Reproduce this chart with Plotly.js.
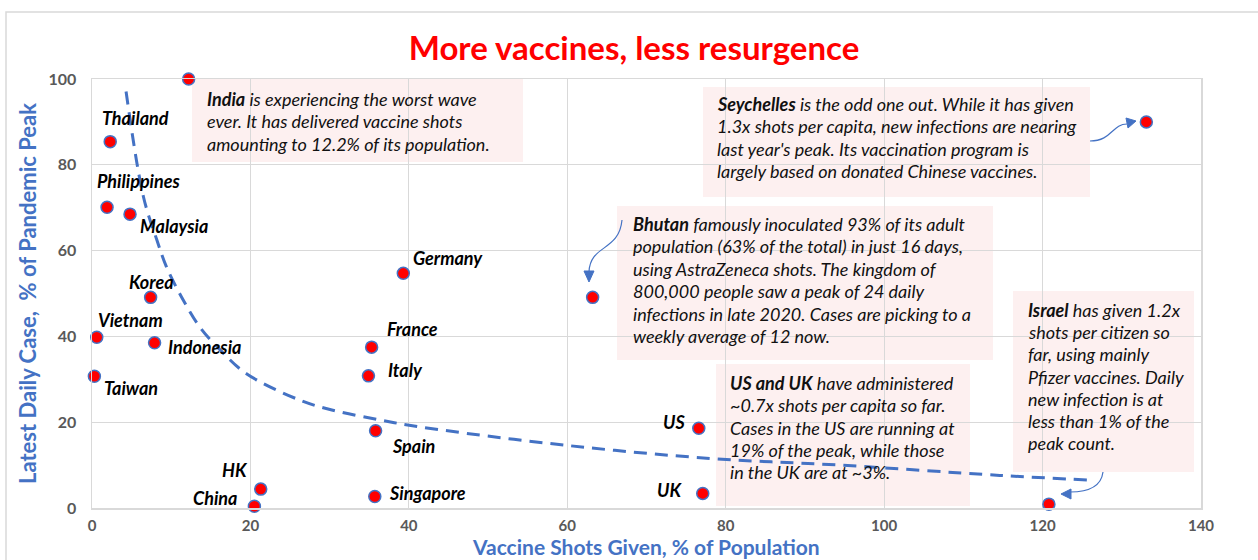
<!DOCTYPE html>
<html><head><meta charset="utf-8">
<script src="https://cdn.plot.ly/plotly-3.0.1.min.js"></script>
<style>html,body{margin:0;padding:0;background:#fff;}#chart{width:1258px;height:560px;}</style>
</head><body><div id="chart"></div>
<script>
// ---- data ----
const countries = ['India','Thailand','Philippines','Malaysia','Korea','Vietnam','Indonesia','Taiwan','Germany','France','Italy','Spain','Singapore','HK','China','US','UK','Bhutan','Israel','Seychelles'];
const shots = [12.2, 2.3, 1.9, 4.8, 7.4, 0.6, 7.9, 0.3, 39.3, 35.3, 34.9, 35.8, 35.7, 21.3, 20.5, 76.6, 77.1, 63.2, 120.8, 133.1];
const cases = [100, 85.4, 70.1, 68.5, 49.1, 39.8, 38.5, 30.7, 54.7, 37.5, 30.8, 18.0, 2.7, 4.4, 0.4, 18.6, 3.4, 49.1, 0.9, 90.0];
// trend line
const trendX = [4.3, 6.5, 8.2, 9.4, 11.3, 13.6, 16.2, 19.5, 26.3, 30.4, 36.4, 41.4, 59.9, 78.4, 94.4, 114.6, 126];
const trendY = [97.1, 72.5, 62.4, 56.2, 49.2, 42.2, 36.8, 31.3, 25.1, 22.8, 20.5, 18.9, 14.6, 11.5, 10.0, 7.6, 6.5];
const xTicks = [0, 20, 40, 60, 80, 100, 120, 140];
const yTicks = [0, 20, 40, 60, 80, 100];
const xTitle = 'Vaccine Shots Given, % of Population';
const yTitle = 'Latest Daily Case,  % of Pandemic Peak';
// annotation texts
const indiaLines = ['<b>India</b> is experiencing the worst wave', 'ever. It has delivered vaccine shots', 'amounting to 12.2% of its population.'];
const seyLines = ['<b>Seychelles</b> is the odd one out. While it has given', '1.3x shots per capita, new infections are nearing', "last year's peak. Its vaccination program is", 'largely based on donated Chinese vaccines.'];
const bhutanLines = ['<b>Bhutan</b> famously inoculated 93% of its adult', 'population (63% of the total) in just 16 days,', 'using AstraZeneca shots. The kingdom of', '800,000 people saw a peak of 24 daily', 'infections in late 2020. Cases are picking to a', 'weekly average of 12 now.'];
const usLines = ['<b>US and UK</b> have administered', '~0.7x shots per capita so far.', 'Cases in the US are running at', '19% of the peak, while those', 'in the UK are at ~3%.'];
const israelLines = ['<b>Israel</b> has given 1.2x', 'shots per citizen so', 'far, using mainly', 'Pfizer vaccines. Daily', 'new infection is at', 'less than 1% of the', 'peak count.'];

// ---- styling / layout helpers ----
const L = 92, T = 79, W = 1109, H = 429;
const px = x => (x - L) / W;
const py = y => (T + H - y) / H;
const FONT = 'Lato, "Open Sans", sans-serif';
const BLUE = '#4472C4';

// label placements (pixel offsets from the point)
const labelPos = {
  Thailand:[-10,24,'left'], Philippines:[-12,26,'left'], Malaysia:[8,-12,'left'], Korea:[-24,15,'left'],
  Vietnam:[-1,17,'left'], Indonesia:[11,-4,'left'], Taiwan:[8,-12,'left'], Germany:[8,15,'left'],
  France:[13,18,'left'], Italy:[18,6,'left'], Spain:[14,-15,'left'], Singapore:[12,3,'left'],
  HK:[-11,19,'right'], China:[-15,8,'right'], US:[-12,6,'right'], UK:[-19,3,'right']
};

const annotations = [];
countries.forEach((c, i) => {
  const p = labelPos[c];
  if (!p) return;
  annotations.push({x: shots[i], y: cases[i], xref:'x', yref:'y', showarrow:false,
    text:'<b><i>'+c+'</i></b>', xanchor:p[2], yanchor:'middle', xshift:p[0], yshift:p[1],
    font:{family:FONT, size:18, color:'#000'}});
});

// x-axis title, placed just under the tick labels
annotations.push({xref:'paper', yref:'paper', x:px(646), y:py(546), xanchor:'center', yanchor:'middle',
  showarrow:false, borderpad:0, text:'<b>'+xTitle+'</b>', font:{family:FONT, size:21, color:BLUE}});

const shapes = [];
function textBox(lines, left, top, right, bottom, textLeft, firstY, step) {
  shapes.push({type:'rect', xref:'paper', yref:'paper', layer:'between',
    x0:px(left), x1:px(right), y0:py(bottom), y1:py(top),
    fillcolor:'rgba(250,215,215,0.38)', line:{width:0}});
  lines.forEach((t, k) => {
    annotations.push({xref:'paper', yref:'paper', x:px(textLeft), y:py(firstY + k*step),
      xanchor:'left', yanchor:'middle', showarrow:false, text:'<i>'+t+'</i>',
      font:{family:FONT, size:18, color:'#111'}});
  });
}
textBox(indiaLines, 192, 79, 523, 162, 205, 99, 22.4);
textBox(seyLines, 703, 87, 1090, 197, 715, 104, 22.4);
textBox(bhutanLines, 617, 206, 993, 360, 631, 224, 22.4);
textBox(usLines, 716, 364, 970, 506, 728, 383, 22.3);
textBox(israelLines, 1013, 291, 1194, 472, 1026, 310, 22.2);

function pathStr(cmds) {
  return cmds.map(c => c[0] + ' ' + c.slice(1).reduce((a, v, j) => {
    a.push(j % 2 === 0 ? px(v).toFixed(5) : py(v).toFixed(5)); return a;
  }, []).join(',')).join(' ');
}
function curve(cmds, head) {
  shapes.push({type:'path', xref:'paper', yref:'paper', layer:'above',
    path:pathStr(cmds), line:{color:BLUE, width:1.2}});
  shapes.push({type:'path', xref:'paper', yref:'paper', layer:'above',
    path:pathStr([['M',head[0],head[1]],['L',head[2],head[3]],['L',head[4],head[5]]]) + ' Z',
    fillcolor:BLUE, line:{color:BLUE, width:1}});
}
// Seychelles arrow
curve([['M',1090,141],['C',1112,141,1112,124,1127,124]], [1136,121,1126,118,1128,128]);
// Bhutan arrow
curve([['M',622,220],['C',619,252,590,244,589,272]], [589,282,584,271,594,271]);
// Israel arrow
curve([['M',1103,472],['C',1101,488,1086,492,1070,492]], [1061,494,1071,489,1071,499]);

// outer chart border
shapes.push({type:'rect', xref:'paper', yref:'paper', layer:'below',
  x0:px(6), x1:px(1265), y0:py(570), y1:py(12), line:{color:'#D9D9D9', width:1.5}, fillcolor:'rgba(0,0,0,0)'});

const traces = [
  {x: trendX, y: trendY, mode:'lines', type:'scatter', hoverinfo:'skip',
   line:{color:BLUE, width:3, dash:'13px,8px', shape:'spline', smoothing:1}},
  {x: shots, y: cases, text: countries, mode:'markers', type:'scatter', cliponaxis:false,
   marker:{color:'#FF0000', size:12, line:{color:BLUE, width:1.5}}}
];

const axisCommon = {
  showgrid:true, gridcolor:'#D9D9D9', gridwidth:1, zeroline:false,
  showline:true, linecolor:'#D9D9D9', linewidth:1.5, mirror:true,
  ticks:'outside', tickcolor:'rgba(0,0,0,0)',
  tickfont:{family:FONT, size:16, color:'#595959', weight:'bold'}
};

const layout = {
  width:1258, height:560, paper_bgcolor:'#fff', plot_bgcolor:'#fff',
  margin:{l:L, r:1258-L-W, t:T, b:560-T-H},
  showlegend:false,
  title:{text:'<b>More vaccines, less resurgence</b>', font:{family:FONT, size:33, color:'#FF0000'},
    xref:'container', x:634/1258, xanchor:'center', yref:'container', y:1-48/560, yanchor:'middle'},
  xaxis:Object.assign({}, axisCommon, {range:[0,140], tickvals:xTicks, ticktext:xTicks.map(String), ticklen:3,
    tickfont:{family:FONT, size:15, color:'#595959', weight:'bold'}}),
  yaxis:Object.assign({}, axisCommon, {range:[0,100], tickvals:yTicks, ticktext:yTicks.map(String), ticklen:11,
    title:{text:'<b>'+yTitle+'</b>', font:{family:FONT, size:22, color:BLUE}, standoff:6}}),
  annotations: annotations,
  shapes: shapes
};

Plotly.newPlot('chart', traces, layout, {displayModeBar:false, staticPlot:true});
</script>
</body></html>
